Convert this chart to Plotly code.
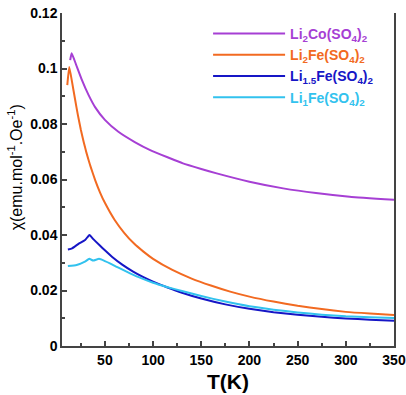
import plotly.graph_objects as go

# Li2Co(SO4)2
T_co = [14, 15.5, 20, 26, 33, 40, 50, 64, 81, 97, 115, 131, 150, 166, 200, 235, 269, 304, 350]
chi_co = [0.103, 0.1055, 0.1015, 0.096, 0.0905, 0.0860, 0.0815, 0.0772, 0.0735, 0.0706, 0.068, 0.0658,
          0.0638, 0.0622, 0.0592, 0.0568, 0.0551, 0.0538, 0.0527]

# Li2Fe(SO4)2
T_fe2 = [11, 13, 16, 19, 22, 25, 28, 31, 35, 40, 45, 50, 60, 70, 80, 90, 100, 120, 140, 160,
         180, 200, 225, 250, 275, 300, 325, 350]
chi_fe2 = [0.094, 0.1005, 0.0950, 0.0890, 0.0832, 0.0780, 0.0735, 0.0695, 0.0648, 0.0597, 0.0553,
           0.0516, 0.0455, 0.0408, 0.0370, 0.0340, 0.0314, 0.0274, 0.0243, 0.0218, 0.0196, 0.0178,
           0.0160, 0.0145, 0.0133, 0.0123, 0.0117, 0.0112]

# Li1.5Fe(SO4)2
T_fe15 = [11.6, 16, 22.6, 29.5, 34, 38, 44.8, 50, 58.6, 68, 79.3, 90, 100, 115, 130, 150, 175,
          200, 225, 250, 275, 300, 325, 350]
chi_fe15 = [0.0348, 0.0352, 0.0368, 0.0382, 0.0400, 0.0385, 0.0362, 0.0345, 0.0318, 0.0293, 0.0268,
            0.0248, 0.0232, 0.0211, 0.0192, 0.0171, 0.0150, 0.0134, 0.0122, 0.0113, 0.0105, 0.0099,
            0.0095, 0.0091]

# Li1Fe(SO4)2
T_fe1 = [11.6, 20.7, 29.3, 33.8, 37.9, 44, 50, 55.2, 63, 72.5, 85, 100, 115, 130, 150, 175, 200,
         225, 250, 275, 300, 325, 350]
chi_fe1 = [0.0288, 0.0292, 0.0304, 0.0314, 0.0308, 0.0314, 0.0306, 0.0298, 0.0284, 0.0268, 0.0248,
           0.0228, 0.0212, 0.0198, 0.0180, 0.0160, 0.0143, 0.0131, 0.0121, 0.0113, 0.0107, 0.0104,
           0.0101]

names = ["Li<sub>2</sub>Co(SO<sub>4</sub>)<sub>2</sub>",
         "Li<sub>2</sub>Fe(SO<sub>4</sub>)<sub>2</sub>",
         "Li<sub>1.5</sub>Fe(SO<sub>4</sub>)<sub>2</sub>",
         "Li<sub>1</sub>Fe(SO<sub>4</sub>)<sub>2</sub>"]
colors = ["#A63FD4", "#F26A21", "#1616C6", "#32C2EE"]
series = [(T_co, chi_co), (T_fe2, chi_fe2), (T_fe15, chi_fe15), (T_fe1, chi_fe1)]

y_ticks = [0, 0.02, 0.04, 0.06, 0.08, 0.1, 0.12]
y_labels = ["0", "0.02", "0.04", "0.06", "0.08", "0.1", "0.12"]
x_ticks = [50, 100, 150, 200, 250, 300, 350]

FONT = "Arial, Liberation Sans, sans-serif"

fig = go.Figure()
for (t, c), n, col in zip(series, names, colors):
    fig.add_trace(go.Scatter(
        x=t, y=c, mode="lines", line=dict(color=col, width=2, shape="spline", smoothing=0.4),
        name=f"<span style='color:{col}'>{n}</span>", legendgroup=n))

fig.update_layout(
    width=406, height=395,
    margin=dict(l=62, r=12, t=13, b=49, autoexpand=False),
    paper_bgcolor="white", plot_bgcolor="white",
    font=dict(family=FONT, color="black"),
    showlegend=True,
    legend=dict(x=0.44, y=0.985, xanchor="left", yanchor="top",
                bgcolor="rgba(0,0,0,0)", itemwidth=72, tracegroupgap=0,
                font=dict(family=FONT, size=14, weight="bold")),
    xaxis=dict(range=[5.5, 350], tickvals=x_ticks, ticks="inside", ticklen=5, tickwidth=1.5,
               tickcolor="#444", showline=True, linecolor="#444", linewidth=1.5,
               showgrid=False, zeroline=False, automargin=False, ticklabeloverflow="allow",
               minor=dict(ticks="inside", ticklen=3, dtick=25, tick0=0, tickcolor="#444",
                          showgrid=False),
               tickfont=dict(family=FONT, size=14, weight="bold"),
               title=dict(text="T(K)", font=dict(family=FONT, size=21, weight="bold"),
                          standoff=8)),
    yaxis=dict(range=[0, 0.12], tickvals=y_ticks, ticktext=y_labels, ticks="inside",
               ticklen=5, tickwidth=1.5, tickcolor="#444", showline=True, linecolor="#444",
               linewidth=1.5, mirror=True, showgrid=False, zeroline=False, automargin=False,
               ticklabeloverflow="allow",
               minor=dict(ticks="inside", ticklen=3, dtick=0.01, tick0=0, tickcolor="#444",
                          showgrid=False),
               tickfont=dict(family=FONT, size=14, weight="bold")),
    annotations=[dict(text="\u03c7(emu.mol<sup>-1</sup>.Oe<sup>-1</sup>)", textangle=-90,
                      xref="paper", yref="paper", x=-0.141, y=0.537, xanchor="center",
                      yanchor="middle", showarrow=False, font=dict(family=FONT, size=16))],
)

# remove the default page margin so the figure sits exactly in the window
fig.write_html("out.html", config={"displayModeBar": False},
               post_script="document.body.style.margin='0';document.body.style.overflow='hidden';")
